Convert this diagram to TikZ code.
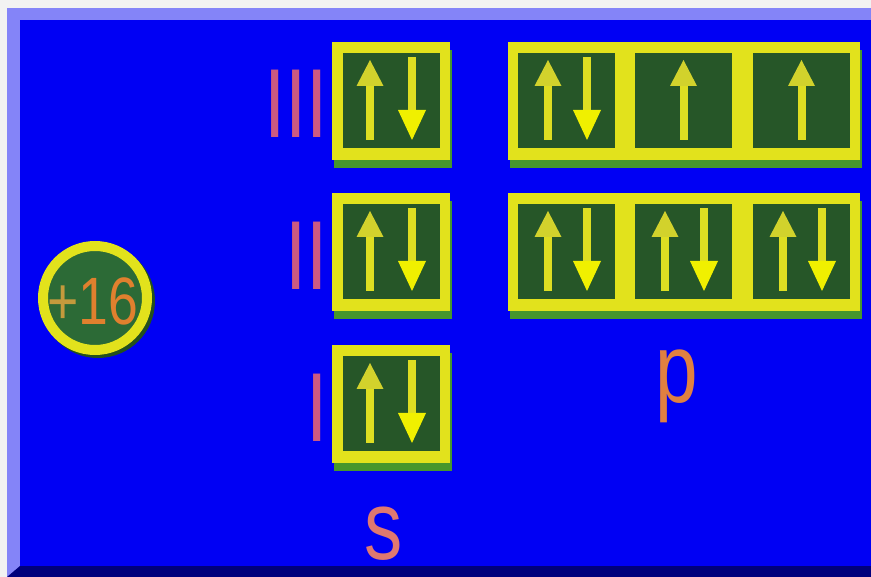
\documentclass[tikz,border=0pt]{standalone}
\usepackage{fontspec}
\setmainfont{Liberation Sans}
\usetikzlibrary{shadows}
\definecolor{edgegray}{HTML}{F2F2F2}
\definecolor{lav}{HTML}{8484F8}
\definecolor{mainblue}{HTML}{0000F4}
\definecolor{navy}{HTML}{00007C}
\definecolor{boxyellow}{HTML}{E2E21C}
\definecolor{cellgreen}{HTML}{265628}
\definecolor{shadowgreen}{HTML}{46962C}
\definecolor{nucgreen}{HTML}{2C6A36}
\definecolor{nucshadow}{HTML}{23501E}
\definecolor{shaftyellow}{HTML}{DEDE22}
\definecolor{upheadc}{HTML}{D2D22C}
\definecolor{dnheadc}{HTML}{F0F000}
\definecolor{romanc}{HTML}{CC5A82}
\definecolor{sclr}{HTML}{E07870}
\definecolor{pclr}{HTML}{E08040}
\definecolor{numclr}{HTML}{E0802E}
\definecolor{plusclr}{HTML}{C49A3C}
\newcommand\bigfont{\fontsize{98}{98}\selectfont}
\newcommand\nucfont{\fontsize{67}{67}\selectfont}
\newcommand\narrow[1]{\scalebox{0.78}[1]{#1}}
\begin{document}
\begin{tikzpicture}[x=1pt,y=-1pt,
  ybox/.style={fill=boxyellow, draw=none, inner sep=0pt, outer sep=0pt, anchor=north west,
    drop shadow={shadow xshift=2pt, shadow yshift=-8pt, fill=shadowgreen, opacity=1}},
  cellbox/.style={fill=cellgreen, draw=none, inner sep=0pt, outer sep=0pt, anchor=north west,
    minimum width=97pt, minimum height=95pt},
  lbl/.style={inner sep=0pt, outer sep=0pt, font=\bigfont},
  roman/.style={lbl, text=romanc, anchor=base east},
  pics/upspin/.style={code={
    \fill[shaftyellow] (-4,44) rectangle (4,98);
    \fill[upheadc] (-13.5,44) -- (13.5,44) -- (0,18) -- cycle;
  }},
  pics/dnspin/.style={code={
    \fill[shaftyellow] (-4,15) rectangle (4,68);
    \fill[dnheadc] (-14,68) -- (14,68) -- (0,98) -- cycle;
  }}
]
% frame
\fill[edgegray] (0,0) rectangle (871,577);
\useasboundingbox (0,0) rectangle (871,577);
\fill[lav] (7,8) rectangle (871,577);
\fill[mainblue] (20,20) rectangle (871,566);
\fill[navy] (7,577) -- (20,566) -- (871,566) -- (871,577) -- cycle;

% nucleus
\fill[nucshadow] (98,301) circle (57);
\node[circle, fill=nucgreen, draw=boxyellow, line width=10pt, minimum size=104pt, inner sep=0pt] (nuc) at (95,298) {};
\node[inner sep=0pt, font=\nucfont] (nuct) at (92.5,301) {\scalebox{0.8}[1]{\textcolor{plusclr}{+}\textcolor{numclr}{16}}};

% s boxes
\foreach \r/\t in {3/42, 2/193, 1/345} {
  \node[ybox, minimum width=118pt, minimum height=118pt] (s\r) at (332,\t) {};
  \node[cellbox] (s\r c) at (343,\t+11) {};
  \pic at (370,\t) {upspin};
  \pic at (412,\t) {dnspin};
}

% p boxes
\foreach \r/\t in {3/42, 2/193} {
  \node[ybox, minimum width=352pt, minimum height=118pt] (p\r) at (508,\t) {};
  \foreach \c/\xx in {1/518, 2/635, 3/753} {
    \node[cellbox] (p\r c\c) at (\xx,\t+11) {};
  }
}
% p row III: 2,1,1
\pic at (548,42) {upspin};
\pic at (587,42) {dnspin};
\pic at (683.5,42) {upspin};
\pic at (801.5,42) {upspin};
% p row II: 2,2,2
\foreach \xx in {518, 635, 753} {
  \pic at (\xx+30,193) {upspin};
  \pic at (\xx+69,193) {dnspin};
}

% shell labels
\node[roman] (r3) at (328,138) {\narrow{III}};
\node[roman] (r2) at (328,290) {\narrow{II}};
\node[roman] (r1) at (328,442) {\narrow{I}};

% subshell labels
\node[lbl, anchor=base, text=sclr] (slbl) at (384,559) {\narrow{s}};
\node[lbl, anchor=base, text=pclr] (plbl) at (677,403) {\narrow{p}};
\end{tikzpicture}
\end{document}
